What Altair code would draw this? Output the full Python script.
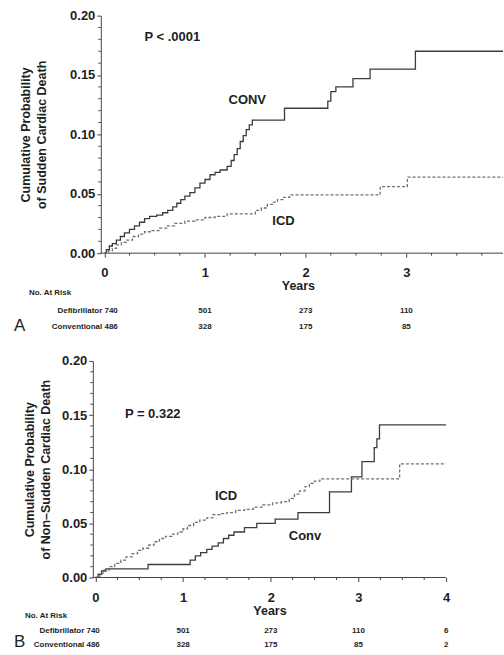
import altair as alt
import pandas as pd

# ---- Panel A: sudden cardiac death ----
a_conv_t = [0, 0.02, 0.05, 0.08, 0.12, 0.16, 0.20, 0.25, 0.30, 0.35, 0.40, 0.45, 0.52, 0.58,
            0.63, 0.68, 0.72, 0.76, 0.80, 0.85, 0.90, 0.95, 1.00, 1.05, 1.10, 1.15, 1.22, 1.26,
            1.29, 1.32, 1.35, 1.38, 1.41, 1.44, 1.47, 1.79, 2.22, 2.25, 2.30, 2.47, 2.64, 3.09, 4.0]
a_conv_v = [0, 0.003, 0.006, 0.008, 0.011, 0.014, 0.017, 0.020, 0.023, 0.026, 0.029, 0.031, 0.032, 0.034,
            0.036, 0.039, 0.042, 0.045, 0.048, 0.051, 0.055, 0.059, 0.062, 0.066, 0.068, 0.070, 0.073, 0.078,
            0.083, 0.088, 0.094, 0.099, 0.104, 0.108, 0.112, 0.122, 0.128, 0.136, 0.140, 0.147, 0.155, 0.170, 0.170]

a_icd_t = [0, 0.04, 0.08, 0.12, 0.17, 0.22, 0.28, 0.34, 0.40, 0.47, 0.55, 0.62, 0.70, 0.80,
           0.90, 1.00, 1.10, 1.22, 1.50, 1.56, 1.62, 1.67, 1.72, 1.78, 1.84, 2.74, 3.01, 4.0]
a_icd_v = [0, 0.002, 0.004, 0.007, 0.009, 0.011, 0.014, 0.016, 0.018, 0.019, 0.021, 0.023, 0.025, 0.027,
           0.028, 0.030, 0.031, 0.033, 0.036, 0.038, 0.041, 0.043, 0.045, 0.047, 0.049, 0.056, 0.064, 0.064]

# ---- Panel B: non-sudden cardiac death ----
b_conv_t = [0, 0.03, 0.07, 0.12, 0.60, 1.08, 1.14, 1.20, 1.27, 1.33, 1.40, 1.46, 1.52, 1.58,
            1.70, 1.84, 2.05, 2.31, 2.67, 2.92, 3.04, 3.18, 3.21, 3.24, 4.0]
b_conv_v = [0, 0.003, 0.006, 0.008, 0.012, 0.016, 0.020, 0.023, 0.026, 0.029, 0.032, 0.036, 0.039, 0.042,
            0.046, 0.050, 0.054, 0.060, 0.079, 0.093, 0.107, 0.120, 0.128, 0.141, 0.141]

b_icd_t = [0, 0.05, 0.10, 0.16, 0.22, 0.29, 0.35, 0.42, 0.48, 0.54, 0.61, 0.67, 0.73, 0.80,
           0.87, 0.94, 1.00, 1.05, 1.12, 1.19, 1.27, 1.34, 1.42, 1.50, 1.60, 1.70, 1.80, 1.91,
           2.02, 2.12, 2.21, 2.27, 2.33, 2.39, 2.44, 2.50, 2.56, 3.47, 4.0]
b_icd_v = [0, 0.004, 0.007, 0.010, 0.013, 0.016, 0.019, 0.022, 0.025, 0.027, 0.030, 0.033, 0.036, 0.038,
           0.040, 0.042, 0.045, 0.048, 0.051, 0.053, 0.055, 0.058, 0.059, 0.060, 0.062, 0.063, 0.065, 0.067,
           0.069, 0.070, 0.073, 0.077, 0.080, 0.084, 0.087, 0.089, 0.091, 0.105, 0.105]

# ---- Numbers at risk ----
risk_years = [1, 2, 3, 4]
risk_defib = ["501", "273", "110", "6"]
risk_conv = ["328", "175", "85", "2"]
risk_row_labels = ["Defibrillator 740", "Conventional 486"]

# ---- Axis ticks ----
y_major = [0, 0.05, 0.10, 0.15, 0.20]
y_minor = [round(i * 0.01, 2) for i in range(21) if i % 5]
x_minor_all = [round(i * 0.25, 2) for i in range(17) if i % 4]

FONT = "Liberation Sans"
INK = "#1e1e1e"
AXIS_INK = "#444444"
LETTER_X = -79


def panel(conv_t, conv_v, icd_t, icd_v, width, height, x_dom, x_major, y_title,
          y_offset, y_title_pad, x_label_pad, x_title_pad, n_risk,
          p_label, p_pos, conv_label, conv_pos, icd_pos, letter,
          head_x, row_x, rows_y, letter_y):
    curves = pd.DataFrame(
        {"t": conv_t + icd_t,
         "v": conv_v + icd_v,
         "arm": ["conv"] * len(conv_t) + ["icd"] * len(icd_t)}
    )
    x_scale = alt.Scale(domain=x_dom, nice=False, zero=False)
    y_scale = alt.Scale(domain=[0, 0.2], nice=False)
    x_axis = alt.Axis(
        values=x_major, title="Years", format="d", domain=False,
        labelOverlap=False, labelFlush=False,
        tickSize=4, labelPadding=x_label_pad, titlePadding=x_title_pad, grid=False,
    )
    y_axis = alt.Axis(
        values=y_major, title=y_title, format=".2f", offset=y_offset,
        labelOverlap=False, labelFlush=False,
        tickSize=4, labelPadding=2, titlePadding=y_title_pad, grid=False,
    )
    lines = alt.Chart(curves).mark_line(interpolate="step-after", strokeWidth=1.3, clip=True).encode(
        x=alt.X("t:Q", scale=x_scale, axis=x_axis),
        y=alt.Y("v:Q", scale=y_scale, axis=y_axis),
        detail="arm:N",
        color=alt.Color("arm:N", scale=alt.Scale(domain=["conv", "icd"], range=["#3c3c3c", "#707070"]),
                        legend=None),
        strokeDash=alt.StrokeDash("arm:N", scale=alt.Scale(domain=["conv", "icd"], range=[[1, 0], [3, 2]]),
                                  legend=None),
    )

    # x baseline, starting at the y axis
    axis_x0 = x_dom[0] + (-y_offset) * (x_dom[1] - x_dom[0]) / width
    base_line = alt.Chart(pd.DataFrame({"a": [axis_x0], "b": [x_dom[1]]})).mark_rule(
        color=AXIS_INK, strokeWidth=1).encode(x="a:Q", x2="b:Q", y=alt.value(height))

    # minor ticks
    x_minor = [v for v in x_minor_all if v < x_dom[1]]
    x_min_ticks = alt.Chart(pd.DataFrame({"t": x_minor})).mark_rule(
        color=AXIS_INK, strokeWidth=1).encode(
        x="t:Q", y=alt.value(height), y2=alt.value(height + 2.5))
    y_min_ticks = alt.Chart(pd.DataFrame({"v": y_minor})).mark_rule(
        color=AXIS_INK, strokeWidth=1).encode(
        y="v:Q", x=alt.value(-y_offset - 2.5), x2=alt.value(-y_offset))

    ann_style = dict(font=FONT, fontWeight="bold", fontSize=13, color=INK, baseline="middle")
    p_txt = alt.Chart(pd.DataFrame({"t": [p_pos[0]], "v": [p_pos[1]], "label": [p_label]})).mark_text(
        align="left", **ann_style).encode(x="t:Q", y="v:Q", text="label:N")
    arm_txt = alt.Chart(pd.DataFrame({"t": [conv_pos[0], icd_pos[0]], "v": [conv_pos[1], icd_pos[1]],
                                      "label": [conv_label, "ICD"]})).mark_text(
        align="center", **ann_style).encode(x="t:Q", y="v:Q", text="label:N")

    risk_df = pd.DataFrame({"t": risk_years[:n_risk], "defib": risk_defib[:n_risk],
                            "conv": risk_conv[:n_risk]})
    risk_style = dict(font=FONT, fontWeight="bold", fontSize=8, color=INK, baseline="middle")
    r1 = alt.Chart(risk_df).mark_text(align="center", **risk_style).encode(
        x="t:Q", y=alt.value(rows_y[1]), text="defib:N")
    r2 = alt.Chart(risk_df).mark_text(align="center", **risk_style).encode(
        x="t:Q", y=alt.value(rows_y[2]), text="conv:N")

    head = alt.Chart(pd.DataFrame({"label": ["No. At Risk"]})).mark_text(
        align="left", **risk_style).encode(
        x=alt.value(head_x), y=alt.value(rows_y[0]), text="label:N")
    row1 = alt.Chart(pd.DataFrame({"label": [risk_row_labels[0]]})).mark_text(
        align="right", **risk_style).encode(
        x=alt.value(row_x), y=alt.value(rows_y[1]), text="label:N")
    row2 = alt.Chart(pd.DataFrame({"label": [risk_row_labels[1]]})).mark_text(
        align="right", **risk_style).encode(
        x=alt.value(row_x), y=alt.value(rows_y[2]), text="label:N")

    lt = alt.Chart(pd.DataFrame({"label": [letter]})).mark_text(
        font=FONT, fontSize=17, color=INK, align="left", baseline="middle"
    ).encode(x=alt.value(LETTER_X), y=alt.value(letter_y), text="label:N")

    return alt.layer(lines, base_line, x_min_ticks, y_min_ticks, p_txt, arm_txt,
                     r1, r2, head, row1, row2, lt).properties(width=width, height=height)


panel_a = panel(
    a_conv_t, a_conv_v, a_icd_t, a_icd_v,
    width=411, height=238, x_dom=[-0.114, 3.96], x_major=[0, 1, 2, 3],
    y_title=["Cumulative Probability", "of Sudden Cardiac Death"],
    y_offset=-8, y_title_pad=21, x_label_pad=9, x_title_pad=0, n_risk=3,
    p_label="P   <   .0001", p_pos=(0.40, 0.182),
    conv_label="CONV", conv_pos=(1.42, 0.129), icd_pos=(1.78, 0.027),
    letter="A", head_x=-64, row_x=25, rows_y=[278, 296, 312], letter_y=311,
)

panel_b = panel(
    b_conv_t, b_conv_v, b_icd_t, b_icd_v,
    width=354, height=217, x_dom=[-0.03, 4.0], x_major=[0, 1, 2, 3, 4],
    y_title=["Cumulative Probability", "of Non\u2013Sudden Cardiac Death"],
    y_offset=0, y_title_pad=9, x_label_pad=10, x_title_pad=0, n_risk=4,
    p_label="P   =   0.322", p_pos=(0.336, 0.151),
    conv_label="Conv", conv_pos=(2.39, 0.0387), icd_pos=(1.49, 0.0756),
    letter="B", head_x=-68, row_x=7, rows_y=[256, 271, 285], letter_y=282,
)

chart = alt.vconcat(panel_a, panel_b, spacing=21).properties(
    padding={"left": 14, "top": 9, "right": 0, "bottom": 0}
).configure_view(stroke=None).configure_axis(
    labelFont=FONT, labelFontWeight="bold", labelFontSize=13, labelColor=INK,
    titleFont=FONT, titleFontWeight="bold", titleFontSize=12.5, titleColor=INK,
    domainColor=AXIS_INK, tickColor=AXIS_INK, titleLineHeight=16,
).configure_text(font=FONT)

chart.save("out.html", embed_options={"renderer": "svg", "actions": False})
